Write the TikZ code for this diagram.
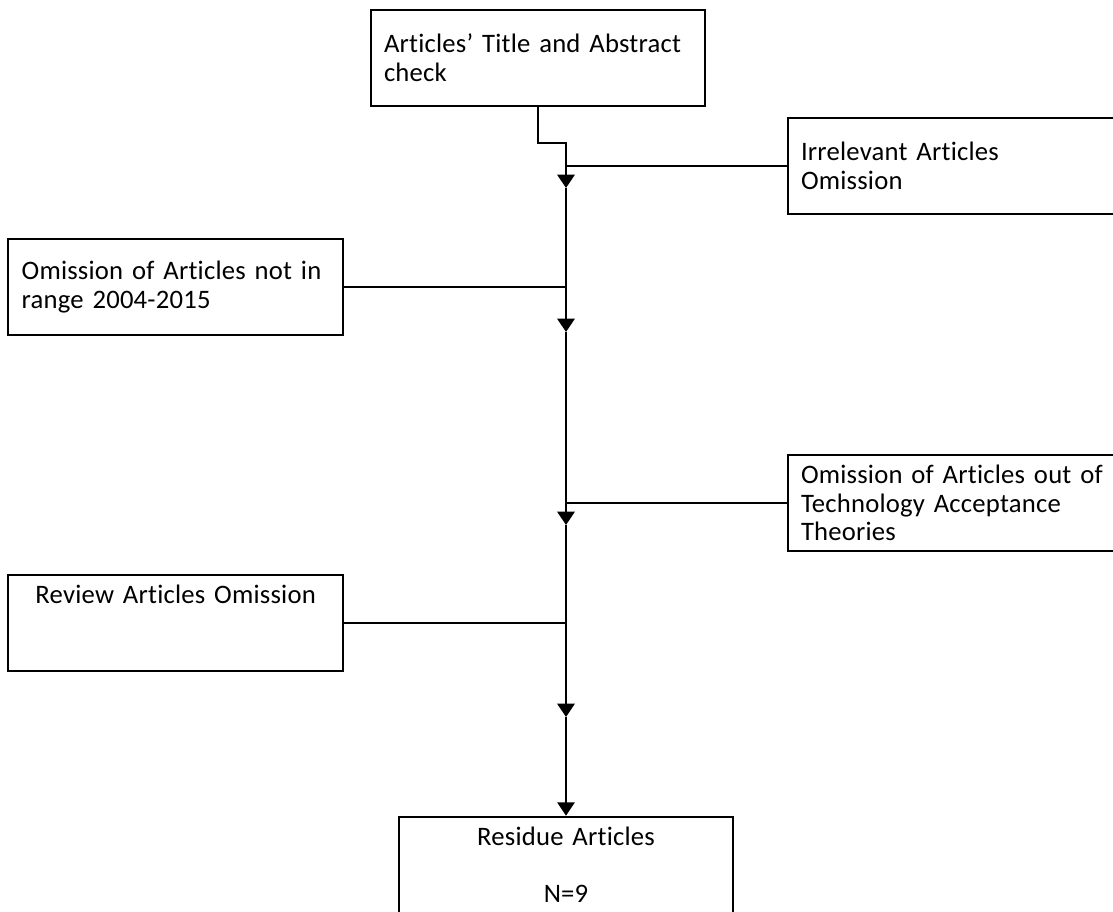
\documentclass[tikz,border=0pt]{standalone}
\usepackage{fontspec}
\setmainfont{Carlito}[Ligatures=NoCommon, WordSpace=0.8, LetterSpace=0.8]
\usetikzlibrary{positioning, arrows.meta}

\tikzset{
  stepbox/.style={draw, line width=1.5pt, text width=231pt, inner xsep=10pt, inner ysep=0pt,
    minimum height=72pt, align=left, font=\fontsize{20}{21.5}\selectfont},
  flow/.style={line width=1.5pt, -{Triangle[width=13pt,length=10pt]}},
  tie/.style={line width=1.1pt},
}

\begin{document}
\begin{tikzpicture}[x=0.75pt, y=-0.75pt]
  \useasboundingbox (0,0) rectangle (1113,911);
  % points on the spine
  \coordinate (bend) at (566,143);
  \coordinate (j1) at (566,166);
  \coordinate (a1) at (566,188);
  \coordinate (j2) at (566,287);
  \coordinate (a2) at (566,332);
  \coordinate (j3) at (566,503);
  \coordinate (a3) at (566,525);
  \coordinate (j4) at (566,623);
  \coordinate (a4) at (566,717);

  \node[stepbox] (check) at (538,58) {Articles’ Title and Abstract\\check};
  \node[stepbox, right=165.5pt of j1] (irrel) {Irrelevant Articles\\Omission};
  \node[stepbox, left=166.5pt of j2] (range) {Omission of Articles not in\\range 2004-2015};
  \node[stepbox, right=165.5pt of j3] (theory) {Omission of Articles out of\\Technology Acceptance\\Theories};
  \node[stepbox, align=center, left=166.5pt of j4] (review) {Review Articles Omission\\\mbox{}\\\mbox{}};
  \node[stepbox, align=center, below=74pt of a4] (residue) {Residue Articles\\\mbox{}\\N=9};

  \draw[flow] (check.south) |- (bend) -- (a1);
  \draw[flow] (a1) -- (a2);
  \draw[flow] (a2) -- (a3);
  \draw[flow] (a3) -- (a4);
  \draw[flow] (a4) -- (residue.north);

  \draw[tie] (irrel.west) -- (j1);
  \draw[tie] (range.east) -- (j2);
  \draw[tie] (theory.west) -- (j3);
  \draw[tie] (review.east) -- (j4);
\end{tikzpicture}
\end{document}
